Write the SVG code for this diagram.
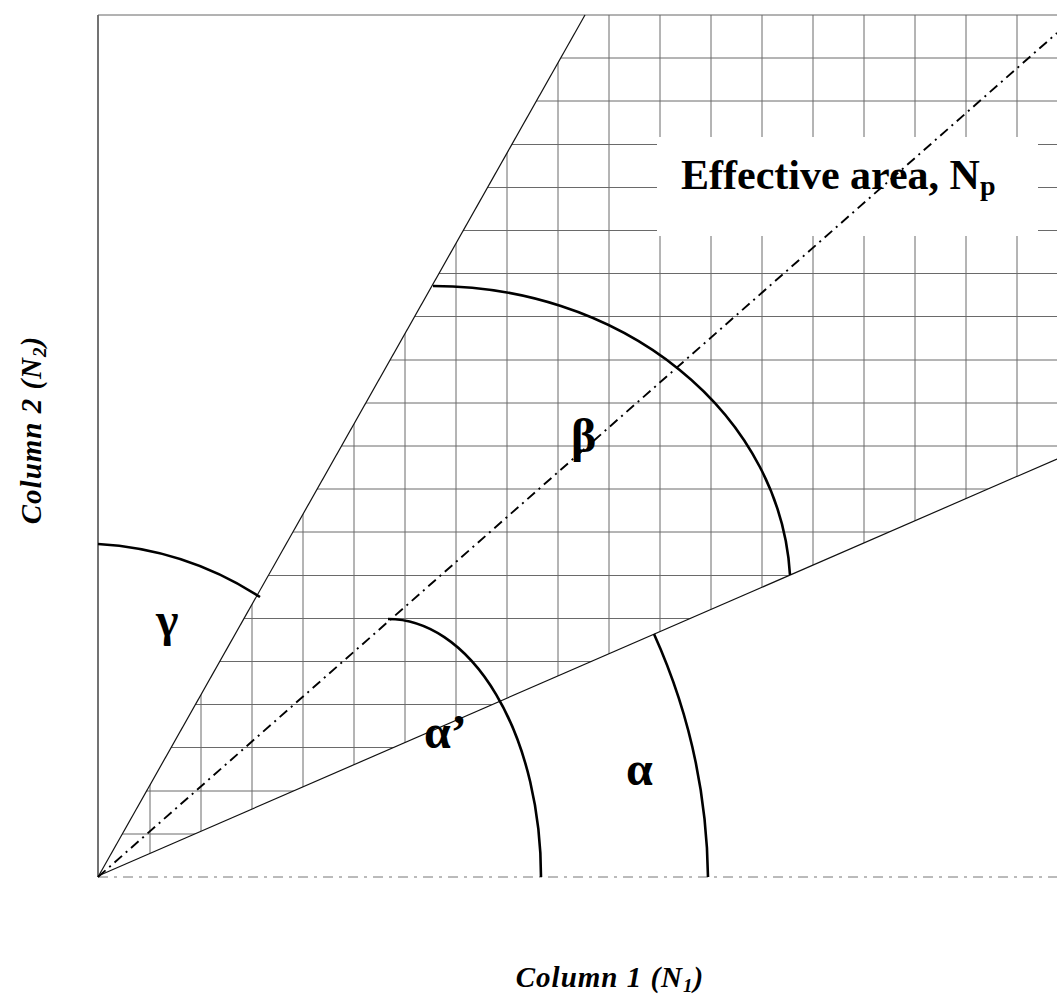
<svg xmlns="http://www.w3.org/2000/svg" width="1057" height="999" viewBox="0 0 1057 999">
<defs>
<clipPath id="effClip"><polygon points="98,877 585,15 1057,15 1057,459 98,876"/></clipPath>
<style>
.grid line{stroke:#6a6a6a;stroke-width:1}
.ray{stroke:#111;stroke-width:1.2;fill:none}
.dash{stroke:#000;stroke-width:1.9;fill:none;stroke-dasharray:10 5 2 5}
.arc{stroke:#000;stroke-width:2.6;fill:none}
.greek{font-family:"Liberation Serif","Times New Roman",serif;font-weight:bold;font-size:48px;fill:#000}
.axislabel{font-family:"Liberation Serif","Times New Roman",serif;font-weight:bold;font-style:italic;font-size:29px;letter-spacing:1px;fill:#000}
.title{font-family:"Liberation Serif","Times New Roman",serif;font-weight:bold;font-size:42px;fill:#000}
</style>
</defs>
<rect width="1057" height="999" fill="#fff"/>
<g id="axes">
<line x1="98" y1="15" x2="98" y2="877" stroke="#444" stroke-width="1.5"/>
<line x1="98" y1="15" x2="1057" y2="15" stroke="#666" stroke-width="1"/>
<line x1="98" y1="877" x2="1057" y2="877" stroke="#777" stroke-width="1" stroke-dasharray="10 6 3 6"/>
</g>
<g id="grid" class="grid" clip-path="url(#effClip)">
<line x1="150" y1="15" x2="150" y2="877"/>
<line x1="201" y1="15" x2="201" y2="877"/>
<line x1="252" y1="15" x2="252" y2="877"/>
<line x1="303" y1="15" x2="303" y2="877"/>
<line x1="354" y1="15" x2="354" y2="877"/>
<line x1="405" y1="15" x2="405" y2="877"/>
<line x1="456" y1="15" x2="456" y2="877"/>
<line x1="507" y1="15" x2="507" y2="877"/>
<line x1="558" y1="15" x2="558" y2="877"/>
<line x1="609" y1="15" x2="609" y2="877"/>
<line x1="660" y1="15" x2="660" y2="877"/>
<line x1="711" y1="15" x2="711" y2="877"/>
<line x1="762" y1="15" x2="762" y2="877"/>
<line x1="813" y1="15" x2="813" y2="877"/>
<line x1="864" y1="15" x2="864" y2="877"/>
<line x1="915" y1="15" x2="915" y2="877"/>
<line x1="966" y1="15" x2="966" y2="877"/>
<line x1="1017" y1="15" x2="1017" y2="877"/>
<line x1="98" y1="834" x2="1057" y2="834"/>
<line x1="98" y1="791" x2="1057" y2="791"/>
<line x1="98" y1="747.5" x2="1057" y2="747.5"/>
<line x1="98" y1="704.5" x2="1057" y2="704.5"/>
<line x1="98" y1="661.5" x2="1057" y2="661.5"/>
<line x1="98" y1="618.5" x2="1057" y2="618.5"/>
<line x1="98" y1="575.5" x2="1057" y2="575.5"/>
<line x1="98" y1="532" x2="1057" y2="532"/>
<line x1="98" y1="489" x2="1057" y2="489"/>
<line x1="98" y1="446" x2="1057" y2="446"/>
<line x1="98" y1="403" x2="1057" y2="403"/>
<line x1="98" y1="360" x2="1057" y2="360"/>
<line x1="98" y1="316.5" x2="1057" y2="316.5"/>
<line x1="98" y1="273.5" x2="1057" y2="273.5"/>
<line x1="98" y1="230.5" x2="1057" y2="230.5"/>
<line x1="98" y1="187.5" x2="1057" y2="187.5"/>
<line x1="98" y1="144.5" x2="1057" y2="144.5"/>
<line x1="98" y1="101" x2="1057" y2="101"/>
<line x1="98" y1="58" x2="1057" y2="58"/>
</g>
<rect id="label-box" x="657" y="137" width="381" height="99" fill="#fff"/>
<g id="connectors">
<line class="ray" x1="98" y1="877" x2="585" y2="15"/>
<line class="ray" x1="98" y1="876" x2="1057" y2="459"/>
<line class="dash" x1="98" y1="877" x2="1057" y2="33"/>
</g>
<g id="arcs">
<path id="arc-gamma" class="arc" d="M98,544 A333,333 0 0 1 260,597"/>
<path id="arc-beta" class="arc" d="M433,286 A357,304 0 0 1 790,575"/>
<path id="arc-alpha-prime" class="arc" d="M388,619 A153,258 0 0 1 541,877"/>
<path id="arc-alpha" class="arc" d="M654,634 A610,610 0 0 1 708,877"/>
</g>
<g id="labels">
<text class="title" x="681" y="189">Effective area, N<tspan font-size="28" dy="6">p</tspan></text>
<text class="greek" x="571" y="452">β</text>
<text class="greek" x="156" y="636">γ</text>
<text class="greek" x="424" y="748">α’</text>
<text class="greek" x="626" y="785">α</text>
<text class="axislabel" x="610" y="987" text-anchor="middle">Column 1 (N<tspan font-size="19" dy="5">1</tspan><tspan dy="-5">)</tspan></text>
<text class="axislabel" transform="translate(41,430) rotate(-90)" x="0" y="0" text-anchor="middle">Column 2 (N<tspan font-size="19" dy="5">2</tspan><tspan dy="-5">)</tspan></text>
</g>
</svg>
